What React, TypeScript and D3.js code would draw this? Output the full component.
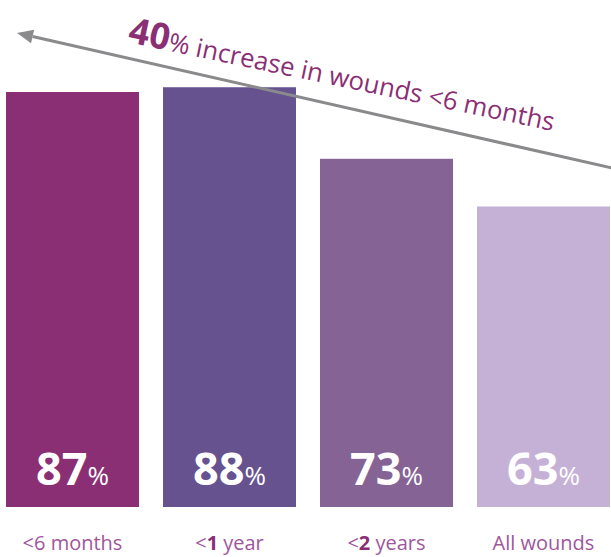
import React from "react";
import * as d3 from "d3";

const categories = ["<6 months", "<1 year", "<2 years", "All wounds"];
const values = [87, 88, 73, 63];
const labelPre = ["<6 months", "<", "<", "All wounds"];
const labelBold = ["", "1", "2", ""];
const labelPost = ["", " year", " years", ""];
const barColors = ["#8b2f75", "#66528f", "#856394", "#c6b1d6"];
const annotationBig = "40";
const annotationRest = "% increase in wounds <6 months";

const W = 611;
const H = 557;
const FONT = "'Open Sans', 'Noto Sans', sans-serif";

export default function App() {
  const x = d3.scaleBand<string>().domain(categories).range([6, 610]).paddingInner(0.153).paddingOuter(0);
  const y = d3.scaleLinear().domain([0, 100]).range([507, 30]);

  const arrowStart: [number, number] = [612, 168];
  const arrowEnd: [number, number] = [17, 33];
  const ang = Math.atan2(arrowEnd[1] - arrowStart[1], arrowEnd[0] - arrowStart[0]);
  const headLen = 16;
  const headW = 7;
  const bx = arrowEnd[0] - headLen * Math.cos(ang);
  const by = arrowEnd[1] - headLen * Math.sin(ang);
  const px = -Math.sin(ang) * headW;
  const py = Math.cos(ang) * headW;
  const head = `M${arrowEnd[0]},${arrowEnd[1]} L${bx + px},${by + py} L${bx - px},${by - py} Z`;

  return (
    <svg width={W} height={H} style={{ position: "absolute", left: 0, top: 0 }} fontFamily={FONT}>
      <rect width={W} height={H} fill="#fff" />
      {categories.map((c, i) => {
        const bx0 = x(c)!;
        const bw = x.bandwidth();
        const cx = bx0 + bw / 2;
        return (
          <g key={c}>
            <rect x={bx0} y={y(values[i])} width={bw} height={y(0) - y(values[i])} fill={barColors[i]} />
            <text x={cx} y={485} textAnchor="middle" fill="#fff">
              <tspan fontSize={45} fontWeight={700}>{values[i]}</tspan>
              <tspan fontSize={26} fontWeight={400}>%</tspan>
            </text>
            <text x={cx} y={550} textAnchor="middle" fontSize={20} fill="#a0569b">
              <tspan>{labelPre[i]}</tspan>
              {labelBold[i] && <tspan fontWeight={700} fill="#8b2f75">{labelBold[i]}</tspan>}
              {labelPost[i] && <tspan>{labelPost[i]}</tspan>}
            </text>
          </g>
        );
      })}
      <line x1={arrowStart[0]} y1={arrowStart[1]} x2={bx} y2={by} stroke="#8a8a8c" strokeWidth={3} />
      <path d={head} fill="#8a8a8c" />
      <text transform={`translate(127,42) rotate(11.8)`} fill="#8b2f75">
        <tspan fontSize={36} fontWeight={700}>{annotationBig}</tspan>
        <tspan fontSize={25.7} fontWeight={400}>{annotationRest}</tspan>
      </text>
    </svg>
  );
}
